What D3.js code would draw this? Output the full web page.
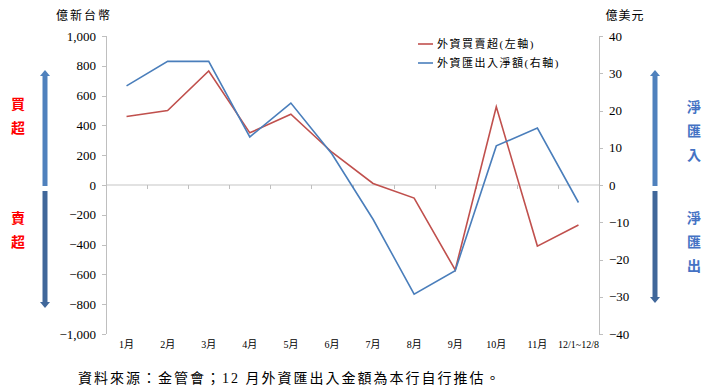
<!DOCTYPE html>
<html lang="zh-Hant">
<head>
<meta charset="UTF-8">
<title>外資買賣超與匯出入</title>
<script src="https://d3js.org/d3.v7.min.js"></script>
<style>
  body { margin: 0; background: #fff; }
  svg text { font-family: "Times New Roman", "Liberation Serif", "DejaVu Serif", "Noto Sans CJK TC", serif !important; }
  .axis path, .axis line { stroke: #bfbfbf; shape-rendering: crispEdges; }
  .axis text { font-size: 13px; fill: #000; }
  .xaxis text { font-size: 10px; }
</style>
</head>
<body>
<script>

var months = ["1月", "2月", "3月", "4月", "5月", "6月", "7月", "8月", "9月", "10月", "11月", "12/1~12/8"];
var netBuy = [460, 500, 765, 350, 475, 220, 10, -88, -570, 525, -410, -268];      // 億新台幣, left axis
var netFlow = [26.6, 33.2, 33.2, 12.9, 22, 8.3, -9.2, -29.3, -23, 10.5, 15.3, -4.7]; // 億美元, right axis
var leftTicks = [-1000, -800, -600, -400, -200, 0, 200, 400, 600, 800, 1000];
var rightTicks = [-40, -30, -20, -10, 0, 10, 20, 30, 40];
var seriesNames = ["外資買賣超(左軸)", "外資匯出入淨額(右軸)"];

var margin = {top: 36, right: 118, bottom: 58, left: 106},
    width = 717 - margin.left - margin.right,
    height = 392 - margin.top - margin.bottom;

var svg = d3.select("body").append("svg")
    .attr("width", 717)
    .attr("height", 392);

var g = svg.append("g")
    .attr("transform", "translate(" + margin.left + "," + margin.top + ")");

var x = d3.scaleBand().domain(months).range([0, width]);
var yL = d3.scaleLinear().domain([-1000, 1000]).range([height, 0]);
var yR = d3.scaleLinear().domain([-40, 40]).range([height, 0]);

// zero line
g.append("line")
    .attr("x1", 0).attr("x2", width)
    .attr("y1", yL(0)).attr("y2", yL(0))
    .attr("stroke", "#d9d9d9").attr("stroke-width", 1.5);

// band ticks on zero line
g.selectAll(".btick")
    .data(months.slice(1))
    .enter().append("line")
    .attr("x1", function(d) { return Math.round(x(d)) + 0.5; })
    .attr("x2", function(d) { return Math.round(x(d)) + 0.5; })
    .attr("y1", yL(0)).attr("y2", yL(0) + 4)
    .attr("stroke", "#bfbfbf");

// month labels
g.append("g")
    .attr("class", "axis xaxis")
    .selectAll("text")
    .data(months)
    .enter().append("text")
    .attr("x", function(d) { return x(d) + x.bandwidth() / 2; })
    .attr("y", height + 14)
    .attr("text-anchor", "middle")
    .text(function(d) { return d; });

g.append("g")
    .attr("class", "axis")
    .call(d3.axisLeft(yL).tickValues(leftTicks).tickSize(4).tickPadding(6).tickFormat(d3.format(",")));

g.append("g")
    .attr("class", "axis")
    .attr("transform", "translate(" + width + ",0)")
    .call(d3.axisRight(yR).tickValues(rightTicks).tickSize(4).tickPadding(6));

g.selectAll(".axis").attr("font-family", null);
g.selectAll(".axis .domain").attr("d", "M0,0V" + height);

// lines
var cx = function(i) { return x(months[i]) + x.bandwidth() / 2; };
g.append("path")
    .datum(netBuy)
    .attr("fill", "none")
    .attr("stroke", "#c0504d")
    .attr("stroke-width", 1.6)
    .attr("d", d3.line().x(function(d, i) { return cx(i); }).y(function(d) { return yL(d); }));

g.append("path")
    .datum(netFlow)
    .attr("fill", "none")
    .attr("stroke", "#4a7ebb")
    .attr("stroke-width", 1.6)
    .attr("d", d3.line().x(function(d, i) { return cx(i); }).y(function(d) { return yR(d); }));

// unit titles
svg.append("text").attr("x", 84).attr("y", 20).attr("text-anchor", "middle")
    .style("font-size", "12px").style("letter-spacing", "2px").text("億新台幣");
svg.append("text").attr("x", 625).attr("y", 20).attr("text-anchor", "middle")
    .style("font-size", "12px").style("letter-spacing", "1px").text("億美元");

// legend
var lg = svg.append("g").attr("transform", "translate(418,44)");
[["#c0504d", seriesNames[0]], ["#4a7ebb", seriesNames[1]]].forEach(function(s, i) {
    lg.append("line").attr("x1", 0).attr("x2", 15).attr("y1", i * 19).attr("y2", i * 19)
        .attr("stroke", s[0]).attr("stroke-width", 1.6);
    lg.append("text").attr("x", 19).attr("y", i * 19 + 4)
        .style("font-size", "11px").style("letter-spacing", "1.5px").text(s[1]);
});

// side arrows
function arrow(xp, y1, y2, color) {
    var dir = y2 < y1 ? -1 : 1;
    svg.append("line").attr("x1", xp).attr("x2", xp).attr("y1", y1).attr("y2", y2 - dir * 6)
        .attr("stroke", color).attr("stroke-width", 5);
    svg.append("path")
        .attr("d", "M" + (xp - 5) + "," + (y2 - dir * 6) + "L" + xp + "," + y2 + "L" + (xp + 5) + "," + (y2 - dir * 6) + "Z")
        .attr("fill", color);
}
arrow(45, 186, 70, "#4f81bd");
arrow(45, 191, 308, "#40679a");
arrow(655, 186, 70, "#4f81bd");
arrow(655, 191, 303, "#40679a");

function vlabel(xp, y0, chars, color) {
    chars.forEach(function(c, i) {
        svg.append("text").attr("x", xp).attr("y", y0 + i * 24).attr("text-anchor", "middle")
            .style("font-size", "14px").style("font-weight", "bold").attr("fill", color).text(c);
    });
}
vlabel(18, 109, ["買", "超"], "#ff0000");
vlabel(18, 223, ["賣", "超"], "#ff0000");
vlabel(694, 112, ["淨", "匯", "入"], "#4472c4");
vlabel(694, 223, ["淨", "匯", "出"], "#4472c4");

// source note
svg.append("text").attr("x", 78).attr("y", 383)
    .style("font-size", "14px").style("letter-spacing", "2px")
    .text("資料來源：金管會；12 月外資匯出入金額為本行自行推估。");

</script>
</body>
</html>
